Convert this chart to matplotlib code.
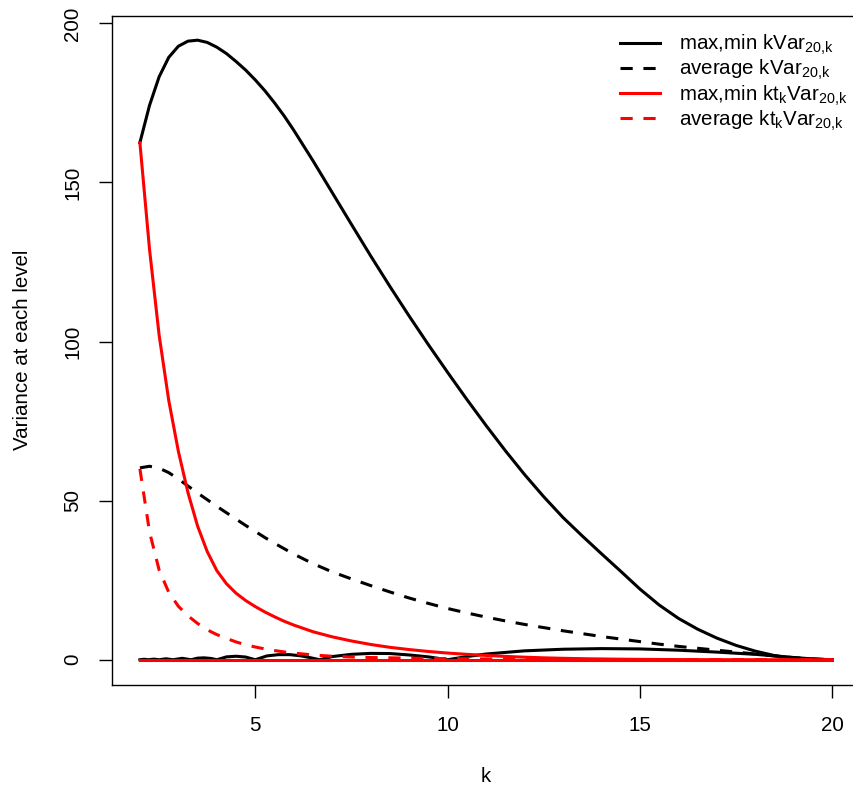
import matplotlib
matplotlib.use("Agg")
import matplotlib.pyplot as plt

plt.rcParams['font.family'] = ['Liberation Sans', 'DejaVu Sans']
plt.rcParams['mathtext.fontset'] = 'custom'
plt.rcParams['mathtext.rm'] = 'Liberation Sans'
plt.rcParams['mathtext.it'] = 'Liberation Sans:italic'
plt.rcParams['mathtext.default'] = 'regular'

# ---- data ----
k = [2, 2.25, 2.5, 2.75, 3, 3.25, 3.5, 3.75, 4, 4.25, 4.5, 4.75, 5, 5.25,
     5.5, 5.75, 6, 6.5, 7, 7.5, 8, 8.5, 9, 9.5, 10, 10.5, 11, 11.5, 12,
     12.5, 13, 13.5, 14, 14.5, 15, 15.5, 16, 16.5, 17, 17.5, 18, 18.5, 19,
     19.5, 20]

max_kvar = [162.5, 174.2, 183.2, 189.3, 192.8, 194.4, 194.7, 194.0, 192.5,
            190.5, 188.0, 185.3, 182.2, 178.8, 175.0, 170.9, 166.4, 156.8,
            146.8, 136.8, 126.9, 117.3, 108.0, 99.0, 90.3, 81.8, 73.6, 65.7,
            58.2, 51.2, 44.7, 38.9, 33.3, 27.8, 22.2, 17.2, 13.0, 9.6, 6.8,
            4.5, 2.7, 1.3, 0.5, 0.1, 0.0]

avg_kvar = [60.3, 60.8, 60.2, 58.8, 56.8, 54.6, 52.4, 50.3, 48.2, 46.2,
            44.2, 42.2, 40.3, 38.4, 36.6, 34.9, 33.2, 30.2, 27.6, 25.4, 23.3,
            21.3, 19.4, 17.7, 16.1, 14.7, 13.4, 12.2, 11.1, 10.1, 9.1, 8.2,
            7.3, 6.5, 5.7, 4.9, 4.2, 3.6, 3.0, 2.4, 1.8, 1.2, 0.65, 0.25, 0.0]

max_ktvar = [162.5, 129.0, 102.0, 81.5, 65.5, 52.5, 42.0, 34.0, 28.0, 23.9,
             20.9, 18.6, 16.7, 15.0, 13.5, 12.1, 10.9, 8.8, 7.2, 5.9, 4.8,
             3.9, 3.2, 2.6, 2.1, 1.7, 1.35, 1.05, 0.8, 0.6, 0.45, 0.33, 0.24,
             0.17, 0.12, 0.08, 0.05, 0.03, 0.02, 0.01, 0.01, 0.0, 0.0, 0.0,
             0.0]

avg_ktvar = [60.0, 40.2, 28.2, 21.2, 16.8, 13.8, 11.4, 9.4, 7.9, 6.7, 5.6,
             4.7, 4.0, 3.4, 2.9, 2.45, 2.1, 1.5, 1.1, 0.85, 0.7, 0.6, 0.5,
             0.42, 0.35, 0.3, 0.25, 0.21, 0.18, 0.15, 0.12, 0.1, 0.08, 0.07,
             0.06, 0.05, 0.04, 0.03, 0.02, 0.02, 0.01, 0.01, 0.0, 0.0, 0.0]

min_ktvar = [0.0] * len(k)

k_min = [2.0, 2.11, 2.22, 2.36, 2.5, 2.68, 2.86, 3.1, 3.33, 3.5, 3.67, 3.85,
         4.0, 4.25, 4.5, 4.75, 5.0, 5.3, 5.6, 5.9, 6.2, 6.45, 6.67, 7.0, 7.5,
         8.0, 8.5, 9.0, 9.5, 10.0, 10.5, 11.0, 12.0, 13.0, 14.0, 15.0, 16.0,
         17.0, 18.0, 19.0, 19.5, 20.0]
min_kvar = [0.0, 0.15, 0.0, 0.2, 0.0, 0.3, 0.0, 0.45, 0.0, 0.5, 0.6, 0.4,
            0.0, 0.9, 1.1, 0.85, 0.0, 1.2, 1.6, 1.6, 1.2, 0.6, 0.0, 1.0, 1.7,
            2.0, 1.95, 1.5, 0.9, 0.0, 1.0, 1.8, 2.8, 3.3, 3.5, 3.4, 3.0, 2.4,
            1.7, 0.7, 0.25, 0.0]

xticks = [5, 10, 15, 20]
yticks = [0, 50, 100, 150, 200]

labels = [r'max,min kVar$_{20{,}k}$', r'average kVar$_{20{,}k}$',
          r'max,min kt$_k$Var$_{20{,}k}$', r'average kt$_k$Var$_{20{,}k}$']

FS = 14.8

# ---- figure ----
W, H = 854, 789
fig = plt.figure(figsize=(W / 100, H / 100), dpi=100)
ax = fig.add_axes([112.2 / W, 1 - 684.5 / H, (860 - 112.2) / W, (684.5 - 16) / H])

lw = 2.2
dash = (0, (4, 3.5))
l1, = ax.plot(k, max_kvar, color='black', lw=lw, solid_joinstyle='round')
ax.plot(k_min, min_kvar, color='black', lw=lw, solid_joinstyle='round')
l2, = ax.plot(k, avg_kvar, color='black', lw=lw, linestyle=dash)
l3, = ax.plot(k, max_ktvar, color='#ff0000', lw=lw, solid_joinstyle='round')
ax.plot(k, min_ktvar, color='#ff0000', lw=lw)
l4, = ax.plot(k, avg_ktvar, color='#ff0000', lw=lw, linestyle=dash)

ax.set_xlim(1.28, 20.72)
ax.set_ylim(-7.78, 202.3)
ax.set_xticks(xticks)
ax.set_yticks(yticks)
ax.set_xticklabels([str(v) for v in xticks])
ax.set_yticklabels([str(v) for v in yticks], rotation=90, va='center')
ax.tick_params(axis='both', direction='out', length=9.5, width=1.0,
               labelsize=FS, color='black')
ax.tick_params(axis='x', pad=13.5)
ax.tick_params(axis='y', pad=12)
for s in ax.spines.values():
    s.set_linewidth(1.0)
    s.set_color('black')

ax.set_xlabel('k', fontsize=FS)
ax.set_ylabel('Variance at each level', fontsize=FS)
ax.xaxis.set_label_coords(0.5, -0.123)
ax.yaxis.set_label_coords(-0.1073, 0.5)

leg = ax.legend([l1, l2, l3, l4], labels, loc='upper right',
                bbox_to_anchor=(847 / W, 1 - 33 / H),
                bbox_transform=fig.transFigure, frameon=False,
                fontsize=FS, handlelength=1.95, handletextpad=0.9,
                labelspacing=0.05, borderpad=0, borderaxespad=0)

fig.savefig('out.png', dpi=100)
